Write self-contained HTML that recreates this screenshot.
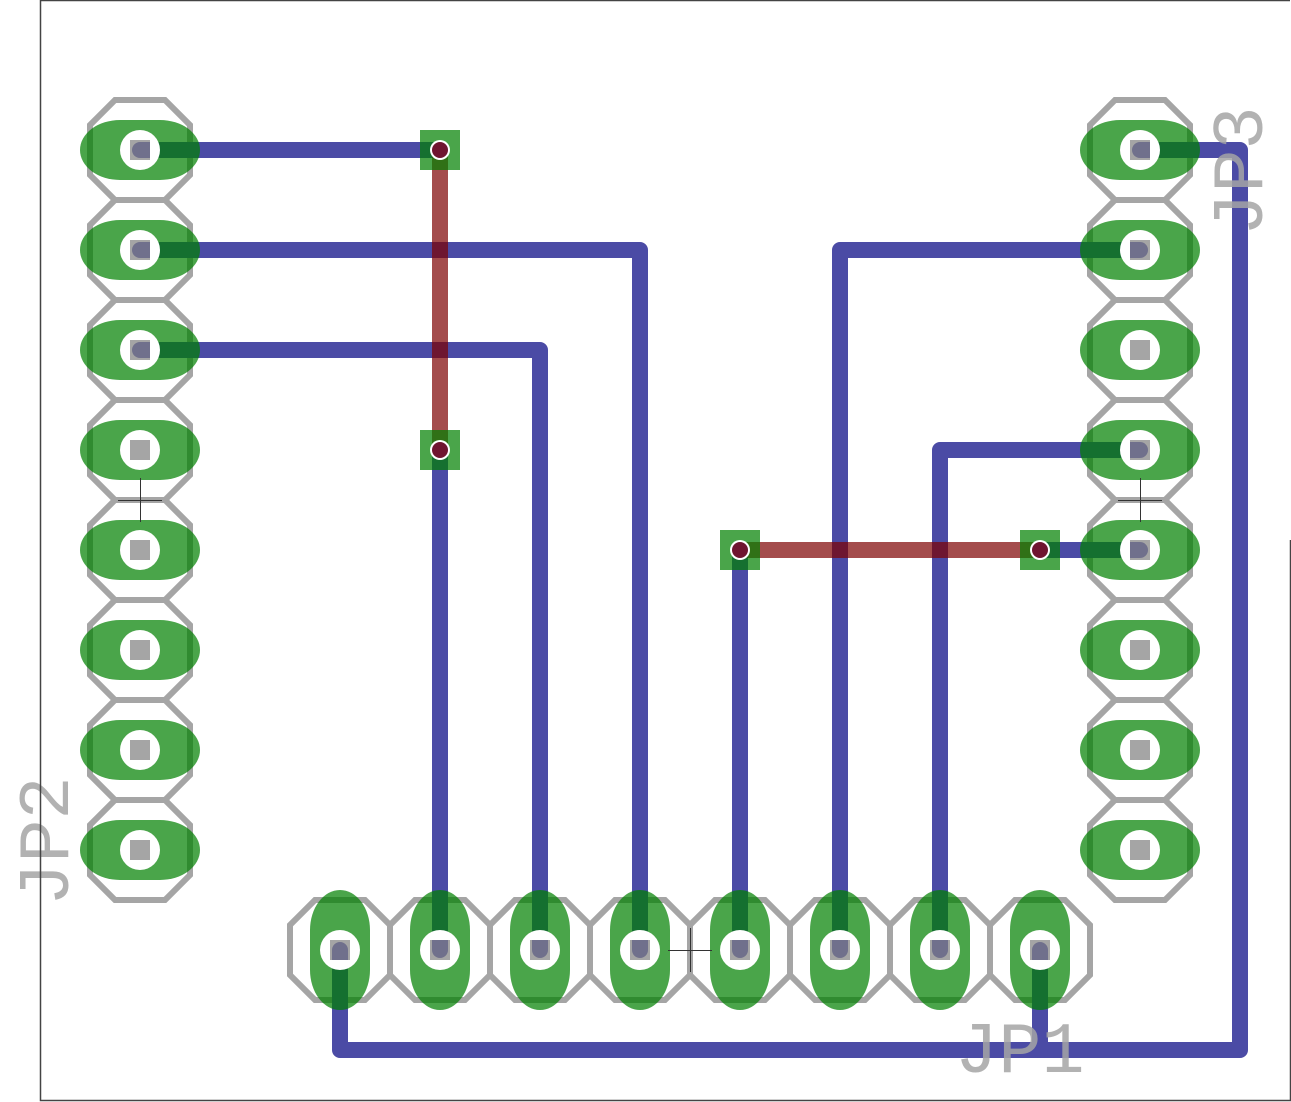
<!DOCTYPE html>
<html><head><meta charset="utf-8"><style>html,body{margin:0;padding:0;background:#fff}svg{display:block}</style></head>
<body>
<svg width="1291" height="1102" viewBox="0 0 1291 1102" xmlns="http://www.w3.org/2000/svg">
<defs>
<polygon id="oct" points="-25,-50 25,-50 50,-25 50,25 25,50 -25,50 -50,25 -50,-25" fill="none" stroke="#A5A5A5" stroke-width="6"/>
<rect id="gh" x="-60" y="-30" width="120" height="60" rx="40" ry="30" fill="rgb(0,128,0)" fill-opacity="0.71"/>
<rect id="gv" x="-30" y="-60" width="60" height="120" rx="30" ry="40" fill="rgb(0,128,0)" fill-opacity="0.71"/>
<g id="hole"><circle r="20" fill="#fff"/><rect x="-10" y="-10" width="20" height="20" fill="#A5A5A5"/></g>
<clipPath id="sq">
<rect x="130" y="140" width="20" height="20"/><rect x="130" y="240" width="20" height="20"/><rect x="130" y="340" width="20" height="20"/>
<rect x="1130" y="140" width="20" height="20"/><rect x="1130" y="240" width="20" height="20"/><rect x="1130" y="440" width="20" height="20"/><rect x="1130" y="540" width="20" height="20"/>
<rect x="330" y="940" width="20" height="20"/><rect x="430" y="940" width="20" height="20"/><rect x="530" y="940" width="20" height="20"/><rect x="630" y="940" width="20" height="20"/><rect x="730" y="940" width="20" height="20"/><rect x="830" y="940" width="20" height="20"/><rect x="930" y="940" width="20" height="20"/><rect x="1030" y="940" width="20" height="20"/>
</clipPath>
</defs>

<g>
<use href="#oct" x="140" y="150"/><use href="#oct" x="140" y="250"/><use href="#oct" x="140" y="350"/><use href="#oct" x="140" y="450"/><use href="#oct" x="140" y="550"/><use href="#oct" x="140" y="650"/><use href="#oct" x="140" y="750"/><use href="#oct" x="140" y="850"/>
<use href="#oct" x="1140" y="150"/><use href="#oct" x="1140" y="250"/><use href="#oct" x="1140" y="350"/><use href="#oct" x="1140" y="450"/><use href="#oct" x="1140" y="550"/><use href="#oct" x="1140" y="650"/><use href="#oct" x="1140" y="750"/><use href="#oct" x="1140" y="850"/>
<use href="#oct" x="340" y="950"/><use href="#oct" x="440" y="950"/><use href="#oct" x="540" y="950"/><use href="#oct" x="640" y="950"/><use href="#oct" x="740" y="950"/><use href="#oct" x="840" y="950"/><use href="#oct" x="940" y="950"/><use href="#oct" x="1040" y="950"/>
</g>

<g fill="none" stroke="#4B4BA5" stroke-width="16" stroke-linecap="round" stroke-linejoin="round">
<polyline points="140,150 440,150"/>
<polyline points="140,250 640,250 640,950"/>
<polyline points="140,350 540,350 540,950"/>
<polyline points="440,450 440,950"/>
<polyline points="740,550 740,950"/>
<polyline points="1140,250 840,250 840,950"/>
<polyline points="1140,450 940,450 940,950"/>
<polyline points="1040,550 1140,550"/>
<polyline points="1140,150 1240,150 1240,1050 340,1050 340,950"/>
<polyline points="1040,950 1040,1050"/>
</g>
<g fill="none" stroke="rgb(126,0,0)" stroke-opacity="0.7" stroke-width="16" stroke-linecap="round">
<line x1="440" y1="150" x2="440" y2="450"/>
<line x1="740" y1="550" x2="1040" y2="550"/>
</g>

<g>
<use href="#gh" x="140" y="150"/><use href="#gh" x="140" y="250"/><use href="#gh" x="140" y="350"/><use href="#gh" x="140" y="450"/><use href="#gh" x="140" y="550"/><use href="#gh" x="140" y="650"/><use href="#gh" x="140" y="750"/><use href="#gh" x="140" y="850"/>
<use href="#gh" x="1140" y="150"/><use href="#gh" x="1140" y="250"/><use href="#gh" x="1140" y="350"/><use href="#gh" x="1140" y="450"/><use href="#gh" x="1140" y="550"/><use href="#gh" x="1140" y="650"/><use href="#gh" x="1140" y="750"/><use href="#gh" x="1140" y="850"/>
<use href="#gv" x="340" y="950"/><use href="#gv" x="440" y="950"/><use href="#gv" x="540" y="950"/><use href="#gv" x="640" y="950"/><use href="#gv" x="740" y="950"/><use href="#gv" x="840" y="950"/><use href="#gv" x="940" y="950"/><use href="#gv" x="1040" y="950"/>
<g fill="rgb(0,128,0)" fill-opacity="0.71">
<rect x="420" y="130" width="40" height="40"/><rect x="420" y="430" width="40" height="40"/><rect x="720" y="530" width="40" height="40"/><rect x="1020" y="530" width="40" height="40"/>
</g>
</g>

<g>
<use href="#hole" x="140" y="150"/><use href="#hole" x="140" y="250"/><use href="#hole" x="140" y="350"/><use href="#hole" x="140" y="450"/><use href="#hole" x="140" y="550"/><use href="#hole" x="140" y="650"/><use href="#hole" x="140" y="750"/><use href="#hole" x="140" y="850"/>
<use href="#hole" x="1140" y="150"/><use href="#hole" x="1140" y="250"/><use href="#hole" x="1140" y="350"/><use href="#hole" x="1140" y="450"/><use href="#hole" x="1140" y="550"/><use href="#hole" x="1140" y="650"/><use href="#hole" x="1140" y="750"/><use href="#hole" x="1140" y="850"/>
<use href="#hole" x="340" y="950"/><use href="#hole" x="440" y="950"/><use href="#hole" x="540" y="950"/><use href="#hole" x="640" y="950"/><use href="#hole" x="740" y="950"/><use href="#hole" x="840" y="950"/><use href="#hole" x="940" y="950"/><use href="#hole" x="1040" y="950"/>
</g>
<g clip-path="url(#sq)" fill="none" stroke="#70708C" stroke-width="16" stroke-linecap="round">
<line x1="140" y1="150" x2="160" y2="150"/><line x1="140" y1="250" x2="160" y2="250"/><line x1="140" y1="350" x2="160" y2="350"/>
<line x1="1140" y1="150" x2="1160" y2="150"/><line x1="1140" y1="250" x2="1120" y2="250"/><line x1="1140" y1="450" x2="1120" y2="450"/><line x1="1140" y1="550" x2="1120" y2="550"/>
<line x1="340" y1="950" x2="340" y2="970"/><line x1="1040" y1="950" x2="1040" y2="970"/>
<line x1="440" y1="950" x2="440" y2="930"/><line x1="540" y1="950" x2="540" y2="930"/><line x1="640" y1="950" x2="640" y2="930"/><line x1="740" y1="950" x2="740" y2="930"/><line x1="840" y1="950" x2="840" y2="930"/><line x1="940" y1="950" x2="940" y2="930"/>
</g>
<g>
<circle cx="440" cy="150" r="10" fill="#fff"/><circle cx="440" cy="150" r="8" fill="#6F1530"/>
<circle cx="440" cy="450" r="10" fill="#fff"/><circle cx="440" cy="450" r="8" fill="#6F1530"/>
<circle cx="740" cy="550" r="10" fill="#fff"/><circle cx="740" cy="550" r="8" fill="#6F1530"/>
<circle cx="1040" cy="550" r="10" fill="#fff"/><circle cx="1040" cy="550" r="8" fill="#6F1530"/>
</g>

<g stroke="#333" stroke-width="1">
<line x1="140.5" y1="478" x2="140.5" y2="522"/><line x1="118" y1="500.5" x2="162" y2="500.5"/>
<line x1="1140.5" y1="478" x2="1140.5" y2="522"/><line x1="1118" y1="500.5" x2="1162" y2="500.5"/>
<line x1="690.5" y1="928" x2="690.5" y2="972"/><line x1="668" y1="950.5" x2="712" y2="950.5"/>
</g>

<g font-family="'Liberation Mono', monospace" font-size="72" fill="#A5A5A5" fill-opacity="0.85">
<text x="0" y="0" transform="translate(68,906) rotate(-90)">JP2</text>
<text x="0" y="0" transform="translate(1262,236) rotate(-90)">JP3</text>
<text x="955" y="1072">JP1</text>
</g>

<g stroke="#444" stroke-width="1.5" fill="none">
<polyline points="1290.5,540 1290.5,1100.5 40.5,1100.5 40.5,0.5 1290,0.5"/>
</g>
</svg>
</body></html>
